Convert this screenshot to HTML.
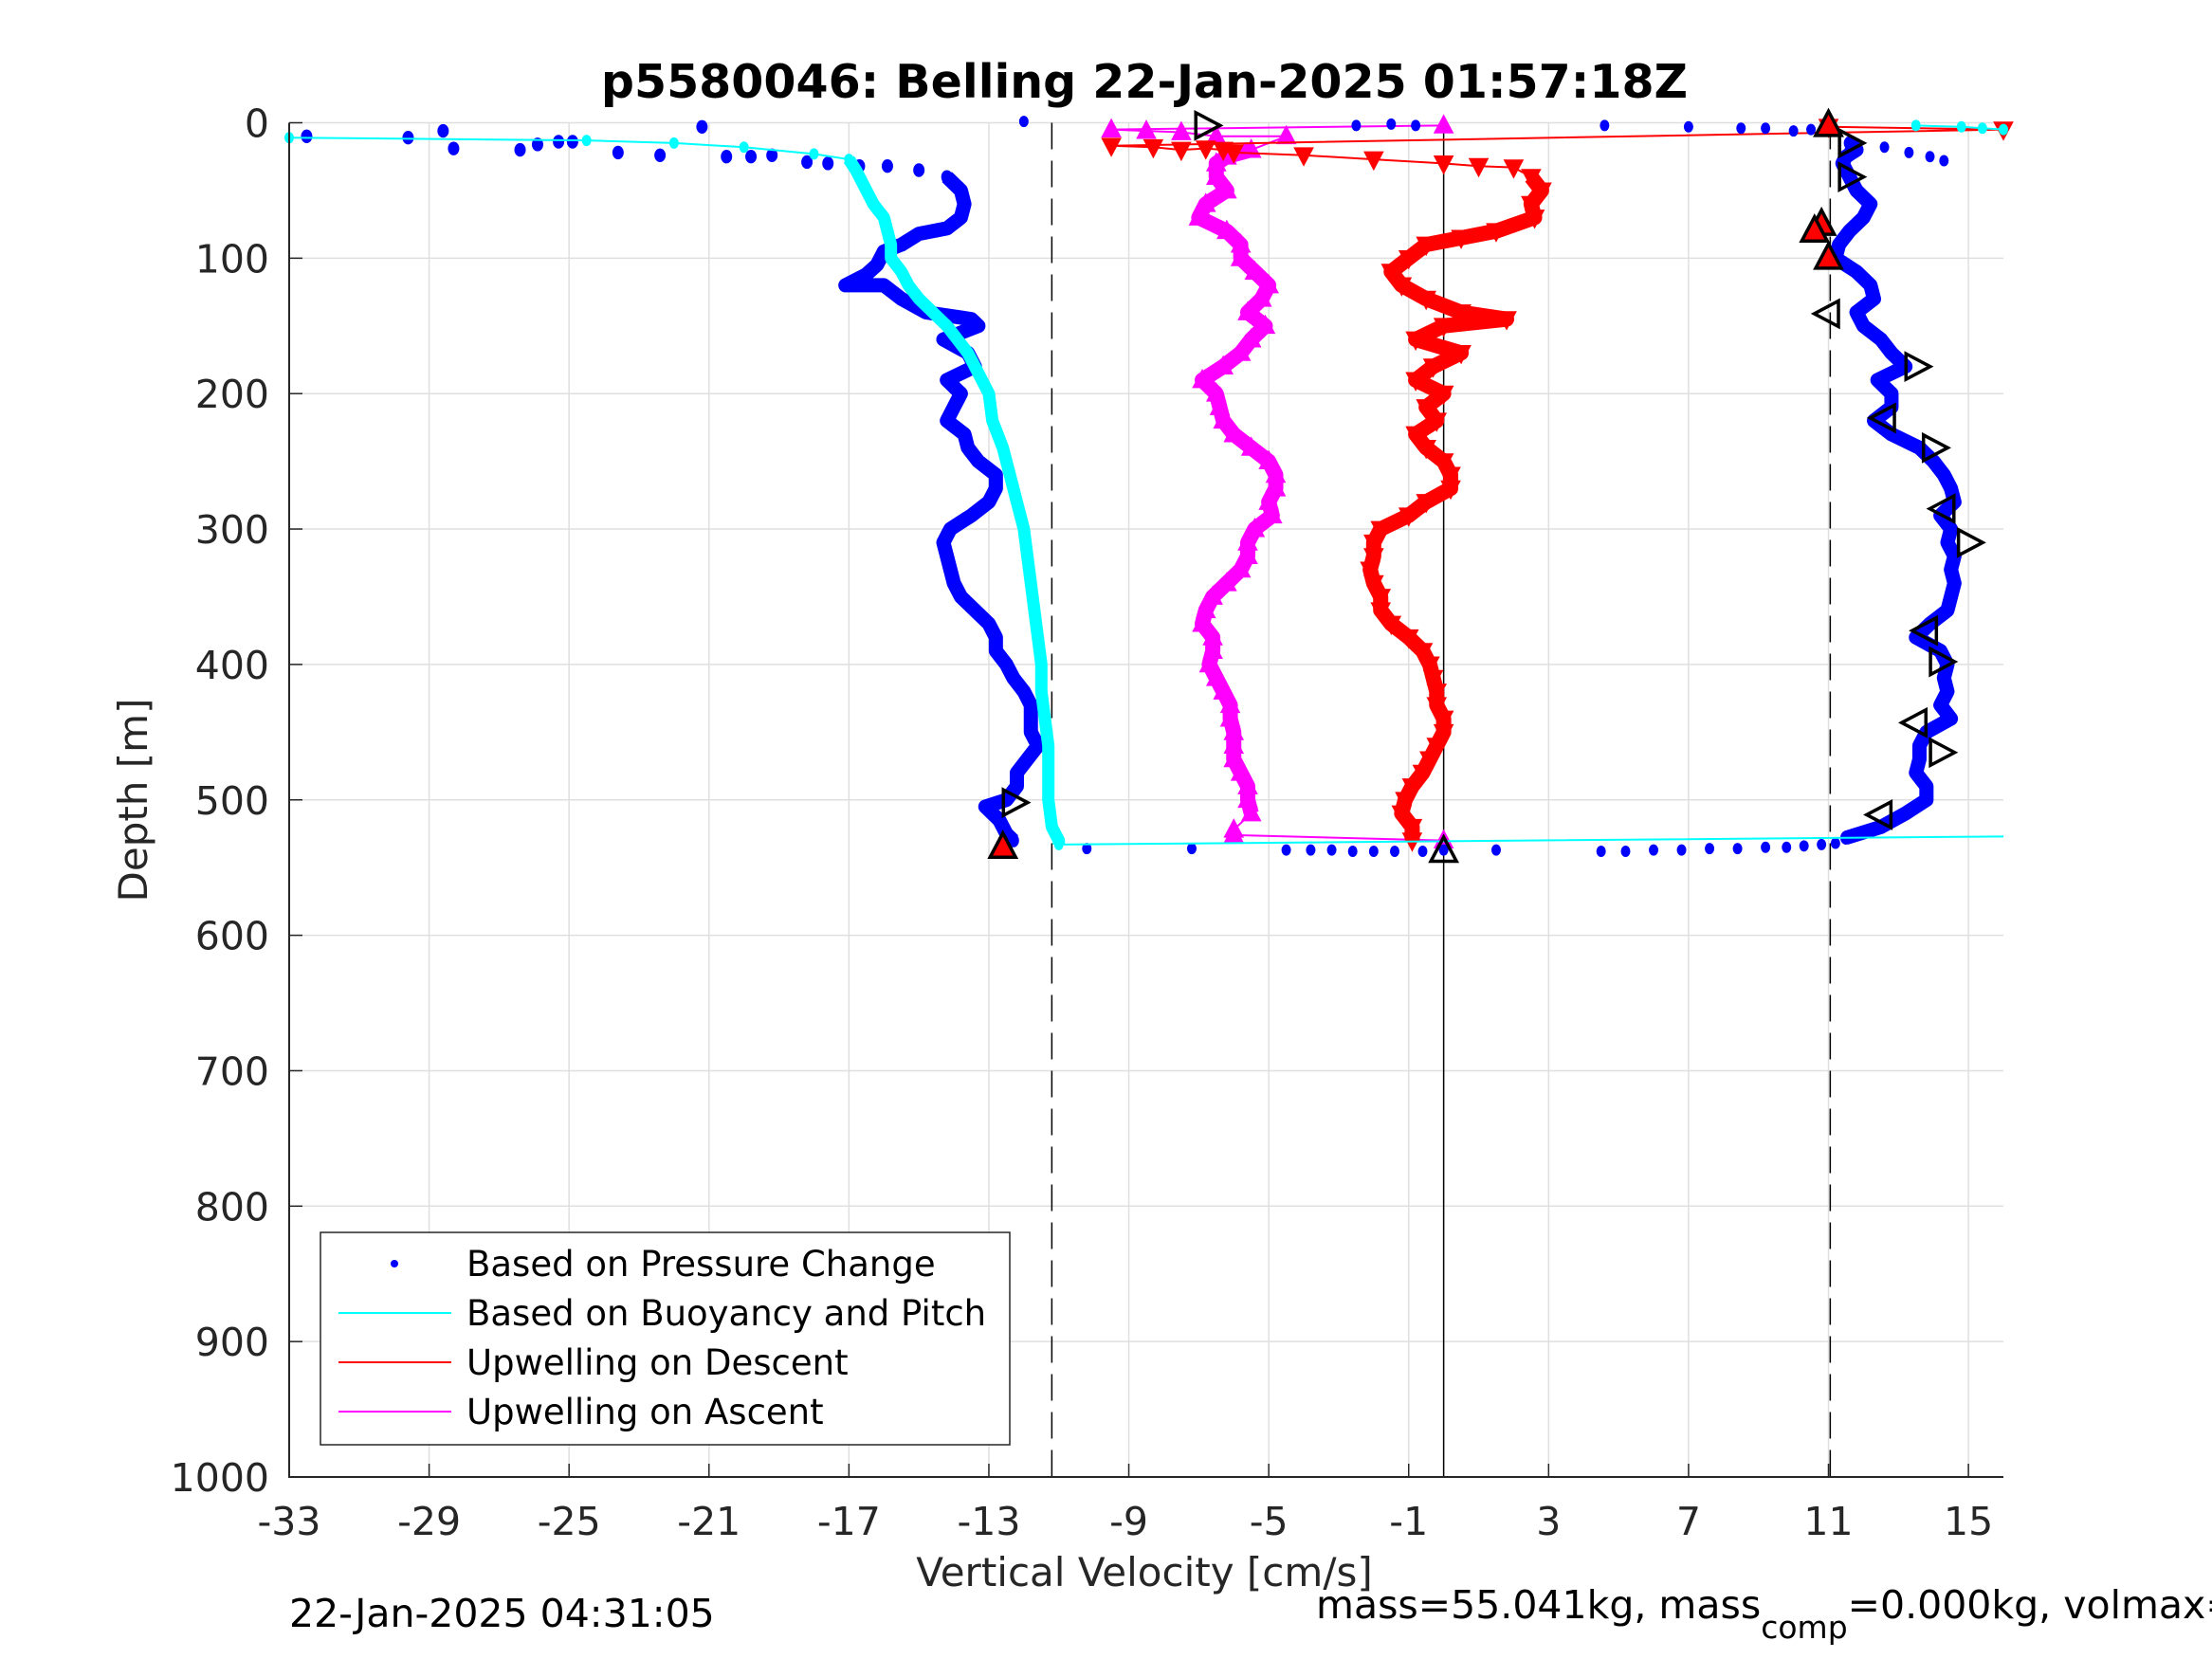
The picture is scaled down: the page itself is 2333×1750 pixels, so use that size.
<!DOCTYPE html>
<html><head><meta charset="utf-8">
<style>
html,body{margin:0;padding:0;background:#fff;}
svg{display:block;font-family:"DejaVu Sans","Liberation Sans",sans-serif;}
</style></head>
<body>
<svg id="chart" width="2333" height="1750" viewBox="0 0 2333 1750" xmlns="http://www.w3.org/2000/svg">
<rect width="2333" height="1750" fill="#fff"/>
<g id="grid"></g>
<g id="refs"></g>
<g id="series"></g>
<g id="axes"></g>
<text x="1207" y="103" text-anchor="middle" font-size="49" font-weight="bold">p5580046: Belling 22-Jan-2025 01:57:18Z</text>
<text x="1207" y="1673" text-anchor="middle" font-size="42" fill="#262626">Vertical Velocity [cm/s]</text>
<text transform="translate(155,844) rotate(-90)" text-anchor="middle" font-size="42" fill="#262626">Depth [m]</text>
<text x="305" y="1716" font-size="41">22-Jan-2025 04:31:05</text>
<text x="1388" y="1707" font-size="41">mass=55.041kg, mass<tspan dy="21" font-size="33">comp</tspan><tspan dy="-21">=0.000kg, volmax=0.000cc</tspan></text>
<g id="legend">
<rect x="338" y="1300" width="727" height="224" fill="#fff" stroke="#262626" stroke-width="1.5"/>
<circle cx="416" cy="1333" r="4" fill="#0000ff"/>
<text x="492" y="1346" font-size="37">Based on Pressure Change</text>
<line x1="357" y1="1385" x2="476" y2="1385" stroke="#00ffff" stroke-width="2"/>
<text x="492" y="1398" font-size="37">Based on Buoyancy and Pitch</text>
<line x1="357" y1="1437" x2="476" y2="1437" stroke="#ff0000" stroke-width="2"/>
<text x="492" y="1450" font-size="37">Upwelling on Descent</text>
<line x1="357" y1="1489" x2="476" y2="1489" stroke="#ff00ff" stroke-width="2"/>
<text x="492" y="1502" font-size="37">Upwelling on Ascent</text>
</g>
</svg>
<script>
// ---- data ----
const xTicks = [-33,-29,-25,-21,-17,-13,-9,-5,-1,3,7,11,15];
const yTicks = [0,100,200,300,400,500,600,700,800,900,1000];
const refDashed = [-11.2, 11.05];
const refSolid = [0];

const descDepth = [10,11,6,19,20,16,14,14,22,24,3,25,25,24,29,30,32,32,35,40,50,60,70,78,82,90,95,105,112,120,120,130,140,145,150,160,170,180,190,200,210,220,230,240,250,260,270,280,290,300,310,320,330,340,350,360,370,380,390,400,410,420,430,440,450,460,470,480,490,500,505,515,525,530];
const descVel = [-32.5,-29.6,-28.6,-28.3,-26.4,-25.9,-25.3,-24.9,-23.6,-22.4,-21.2,-20.5,-19.8,-19.2,-18.2,-17.6,-16.7,-15.9,-15,-14.2,-13.8,-13.7,-13.8,-14.2,-15,-15.5,-16,-16.2,-16.5,-17.1,-16,-15.5,-14.8,-13.5,-13.3,-14.3,-13.6,-13.4,-14.2,-13.8,-14,-14.2,-13.7,-13.6,-13.3,-12.8,-12.8,-13,-13.5,-14.1,-14.3,-14.2,-14.1,-14,-13.8,-13.4,-13,-12.8,-12.8,-12.5,-12.3,-12,-11.8,-11.8,-11.8,-11.6,-11.9,-12.2,-12.2,-12.5,-13.1,-12.7,-12.5,-12.3];
const bottomDepth = [536,536,537,537,537,538,538,538,538,537,537,538,538,537,537,536,536,535,535,534,533,532,-1,2,3,4,4,5,6,2,1,2,18,22,25,28];
const bottomVel = [-10.2,-7.2,-4.5,-3.8,-3.2,-2.6,-2,-1.4,-0.6,0,1.5,4.5,5.2,6,6.8,7.6,8.4,9.2,9.8,10.3,10.8,11.2,-12,4.6,7,8.5,9.2,10.5,10,-2.5,-1.5,-0.8,12.6,13.3,13.9,14.3];
const ascDepth = [15,20,25,30,40,50,60,70,80,90,100,110,120,130,140,150,160,170,180,190,200,210,220,230,240,250,260,270,280,290,300,310,320,330,340,350,360,370,380,390,400,410,420,430,440,450,460,470,480,490,500,510,520,528];
const ascVel = [11.6,11.8,11.5,11.4,11.6,11.8,12.2,12.0,11.6,11.3,11.2,11.8,12.2,12.3,11.8,12.0,12.5,12.8,13.2,12.4,12.8,12.8,12.3,12.8,13.6,14.0,14.3,14.5,14.6,14.2,14.5,14.4,14.6,14.5,14.6,14.5,14.4,13.9,13.5,14.2,14.4,14.3,14.4,14.2,14.5,13.8,13.6,13.6,13.5,13.8,13.8,13.2,12.5,11.5];
const buoyDepth = [11,13,15,18,23,27,35,50,60,70,80,90,100,110,120,130,140,150,160,170,180,190,200,220,240,260,280,300,320,340,360,380,400,420,440,460,480,500,520,530,533,527];
const buoyVel = [-33,-24.5,-22,-20,-18,-17,-16.8,-16.5,-16.3,-16,-15.9,-15.8,-15.8,-15.5,-15.3,-15,-14.6,-14.2,-13.9,-13.6,-13.4,-13.2,-13,-12.9,-12.6,-12.4,-12.2,-12.0,-11.9,-11.8,-11.7,-11.6,-11.5,-11.5,-11.4,-11.3,-11.3,-11.3,-11.2,-11.0,-11.0,16];
const buoyTopDepth = [2,3,4,5];
const buoyTopVel = [13.5,14.8,15.4,16];
const upDescDepth = [3,5,17,18,20,19,20,22,24,27,30,32,33,40,50,60,70,80,85,90,100,110,120,130,140,145,150,160,170,180,190,200,210,220,230,240,250,260,270,280,290,300,310,320,330,340,350,360,370,380,390,400,410,420,430,440,450,460,470,480,490,500,510,520,530];
const upDescVel = [11,16,-9.5,-8.3,-7.5,-6.8,-6.3,-6,-4,-2,0,1,2,2.5,2.8,2.5,2.6,1.5,0.5,-0.5,-1,-1.5,-1.2,-0.5,0.5,1.8,0,-0.8,0.5,-0.3,-0.8,0,-0.5,-0.2,-0.8,-0.5,0,0.2,0.2,-0.5,-1,-1.8,-2,-2,-2.1,-2,-1.8,-1.8,-1.5,-1,-0.6,-0.4,-0.3,-0.2,-0.2,0,0,-0.2,-0.4,-0.6,-0.9,-1.1,-1.2,-0.9,-0.9];
const upAscDepth = [2,5,6,7,10,10,20,25,30,40,50,60,70,80,90,100,110,120,130,140,150,160,170,180,190,200,210,220,230,240,250,260,270,280,290,300,310,320,330,340,350,360,370,380,390,400,410,420,430,440,450,460,470,480,490,500,510,522,526,530];
const upAscVel = [0,-9.5,-8.5,-7.5,-6.5,-4.5,-5.5,-6.2,-6.5,-6.5,-6.2,-6.8,-7,-6.2,-5.8,-5.8,-5.4,-5,-5.2,-5.6,-5.1,-5.5,-5.8,-6.3,-6.9,-6.5,-6.4,-6.3,-6,-5.5,-5.0,-4.8,-4.8,-5.0,-4.9,-5.4,-5.6,-5.6,-5.8,-6.2,-6.6,-6.8,-6.9,-6.6,-6.6,-6.7,-6.5,-6.3,-6.1,-6.1,-6.0,-6.0,-6.0,-5.8,-5.6,-5.6,-5.5,-6,-6,0];
const redMarkDepth = [2,75,80,100,535];
const redMarkVel = [11,10.8,10.6,11,-12.6];
const rightTriDepth = [2,15,40,180,240,310,398,465,502];
const rightTriVel = [-6.8,11.6,11.6,13.5,14,15,14.2,14.2,-12.3];
const leftTriDepth = [141,218,285,375,443,511];
const leftTriVel = [11.0,12.6,14.3,13.8,13.5,12.5];
const openUpDepth = [538];
const openUpVel = [0];

// ---- axes ----
const L=305,R=2113,T=129.5,B=1558,XMIN=-33,XMAX=16,YMIN=0,YMAX=1000;
const sx=v=>L+(v-XMIN)/(XMAX-XMIN)*(R-L);
const sy=d=>T+(d-YMIN)/(YMAX-YMIN)*(B-T);
const NS='http://www.w3.org/2000/svg';
function mk(tag,attrs,parent){const e=document.createElementNS(NS,tag);for(const k in attrs)e.setAttribute(k,attrs[k]);parent.appendChild(e);return e;}
const grid=document.getElementById('grid'),refs=document.getElementById('refs'),ser=document.getElementById('series'),axes=document.getElementById('axes');

xTicks.forEach(t=>{
  const g=mk('line',{x1:sx(t),x2:sx(t),y1:T,y2:B,stroke:'#dfdfdf','stroke-width':1.5},grid);
  
  
  const tk=mk('line',{x1:sx(t),x2:sx(t),y1:B,y2:B-14,stroke:'#262626','stroke-width':1.5},axes);
  
  
  const tx=mk('text',{x:sx(t),y:1619,'text-anchor':'middle','font-size':41,fill:'#262626'},axes);
  tx.textContent=t;
  
  
});
yTicks.forEach(t=>{
  const g=mk('line',{x1:L,x2:R,y1:sy(t),y2:sy(t),stroke:'#dfdfdf','stroke-width':1.5},grid);
  
  
  const tk=mk('line',{x1:L,x2:L+14,y1:sy(t),y2:sy(t),stroke:'#262626','stroke-width':1.5},axes);
  
  
  const tx=mk('text',{x:284,y:sy(t)+15,'text-anchor':'end','font-size':41,fill:'#262626'},axes);
  tx.textContent=t;
  
  
});
const ax=mk('path',{d:`M${L},${T}V${B}H${R}`,fill:'none',stroke:'#262626','stroke-width':2},axes);



refDashed.forEach(v=>{
  const l=mk('line',{x1:sx(v),x2:sx(v),y1:T,y2:B,stroke:'#000','stroke-width':1.5,'stroke-dasharray':'28,12'},refs);
  
  
});
refSolid.forEach(v=>{
  const l=mk('line',{x1:sx(v),x2:sx(v),y1:T,y2:B,stroke:'#000','stroke-width':1.5},refs);
  
  
});

function poly(ds,vs,color,w,name){
  const p=mk('polyline',{points:ds.map((d,i)=>sx(vs[i])+','+sy(d)).join(' '),fill:'none',stroke:color,'stroke-width':w,'stroke-linejoin':'round'},ser);
  
  
}
function dots(ds,vs,color,r,name){
  ds.forEach((d,i)=>{
    const c=mk('ellipse',{cx:sx(vs[i]),cy:sy(d),rx:r,ry:r*1.2,fill:color},ser);
    
    
  });
}
function tri(ds,vs,dir,fill,stroke,s,sw,name){
  ds.forEach((d,i)=>{
    const x=sx(vs[i]),y=sy(d);let pts;
    if(dir==='up')pts=[[x,y-s],[x-s*0.9,y+s*0.7],[x+s*0.9,y+s*0.7]];
    else if(dir==='down')pts=[[x,y+s],[x-s*0.9,y-s*0.7],[x+s*0.9,y-s*0.7]];
    else if(dir==='right')pts=[[x+s,y],[x-s*0.7,y-s*0.9],[x-s*0.7,y+s*0.9]];
    else pts=[[x-s,y],[x+s*0.7,y-s*0.9],[x+s*0.7,y+s*0.9]];
    const p=mk('polygon',{points:pts.map(q=>q.join(',')).join(' '),fill:fill,stroke:stroke,'stroke-width':sw},ser);
    
    
  });
}

// upwelling on ascent (magenta)
poly(upAscDepth,upAscVel,'#ff00ff',2,'ascent-upwelling-line');
poly(upAscDepth.slice(6,57),upAscVel.slice(6,57),'#ff00ff',16,'ascent-upwelling-band');
tri(upAscDepth,upAscVel,'up','#ff00ff','none',12,0,'ascent-upwelling-marker');
// upwelling on descent (red)
poly(upDescDepth,upDescVel,'#ff0000',2,'descent-upwelling-line');
poly(upDescDepth.slice(13),upDescVel.slice(13),'#ff0000',16,'descent-upwelling-band');
tri(upDescDepth,upDescVel,'down','#ff0000','none',12,0,'descent-upwelling-marker');
// pressure-based velocity (blue)
poly(descDepth.slice(19),descVel.slice(19),'#0000ff',15,'descent-pressure-band');
dots(descDepth,descVel,'#0000ff',6,'descent-pressure-point');
poly(ascDepth,ascVel,'#0000ff',15,'ascent-pressure-band');
dots(ascDepth,ascVel,'#0000ff',6,'ascent-pressure-point');
dots(bottomDepth,bottomVel,'#0000ff',5,'pressure-point');
// buoyancy model (cyan)
poly(buoyDepth,buoyVel,'#00ffff',2,'buoyancy-line');
poly(buoyDepth.slice(5,41),buoyVel.slice(5,41),'#00ffff',13,'buoyancy-band');
dots(buoyDepth.slice(0,41),buoyVel.slice(0,41),'#00ffff',5,'buoyancy-point');
poly(buoyTopDepth,buoyTopVel,'#00ffff',2,'buoyancy-top-line');
dots(buoyTopDepth,buoyTopVel,'#00ffff',5,'buoyancy-top-point');
// special markers
tri(redMarkDepth,redMarkVel,'up','#ff0000','#000',15,3.5,'red-triangle-marker');
tri(rightTriDepth,rightTriVel,'right','none','#000',15,3.5,'right-triangle-marker');
tri(leftTriDepth,leftTriVel,'left','none','#000',15,3.5,'left-triangle-marker');
tri(openUpDepth,openUpVel,'up','none','#000',15,3.5,'bottom-triangle-marker');
</script>
</body></html>
